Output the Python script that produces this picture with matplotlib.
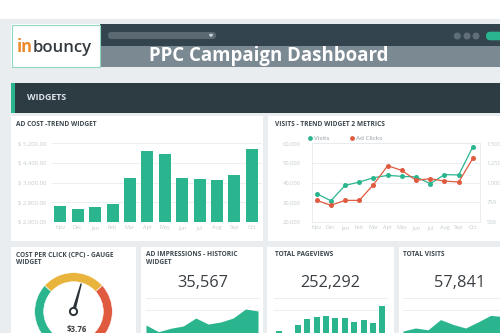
import numpy as np
import matplotlib.pyplot as plt
from matplotlib.patches import Rectangle, FancyBboxPatch, Wedge, Circle, Polygon

plt.rcParams['font.family'] = ['Open Sans', 'DejaVu Sans']

W, H = 500, 333

# ---- data ----
months = ['Nov', 'Dec', 'Jan', 'Feb', 'Mar', 'Apr', 'May', 'Jun', 'Jul', 'Aug', 'Sep', 'Oct']
ad_cost = [2650, 2540, 2610, 2720, 3800, 4900, 4750, 3800, 3750, 3710, 3920, 4960]
ad_cost_ticks = [2000, 2800, 3600, 4400, 5200]

visits = [34400, 30800, 38600, 40300, 42500, 43700, 43200, 42900, 39500, 44100, 43900, 58300]
ad_clicks = [775, 712, 775, 775, 975, 1215, 1155, 1030, 1050, 1020, 1008, 1310]
visits_ticks = [20000, 30000, 40000, 50000, 60000]
clicks_ticks = [500, 750, 1000, 1250, 1500]

cpc = 3.76
cpc_max = 6.75

impressions_total = 35567
impressions_trend = [1.75, 1.19, 1.48, 1.67, 2.33, 1.83, 2.0, 2.33, 3.08, 2.92]
pageviews_total = 252292
pageviews_trend = [1.28, 0.9, 1.75, 2.25, 2.42, 2.5, 2.31, 2.36, 2.0, 2.17, 1.89, 3.31]
visits_total = 57841
visits_trend = [1.25, 1.5, 1.35, 2.2, 1.8, 1.5, 2.0, 2.55, 2.45]

# ---- colours ----
BG = '#e9edef'
TEAL = '#2bb58e'
RED = '#e05a40'
YELLOW = '#e9b43c'
TITLE = '#3c474e'
TICK = '#c6ccd0'
GRID = '#eceff1'

fig = plt.figure(figsize=(W / 100, H / 100), dpi=100)
fig.patch.set_facecolor(BG)


def rect(x0, y0, x1, y1):
    """pixel box -> figure fraction"""
    return [x0 / W, 1 - y1 / H, (x1 - x0) / W, (y1 - y0) / H]


bg = fig.add_axes([0, 0, 1, 1])
bg.set_xlim(0, W)
bg.set_ylim(H, 0)
bg.axis('off')


def box(x0, y0, x1, y1, color):
    bg.add_patch(Rectangle((x0, y0), x1 - x0, y1 - y0, facecolor=color, edgecolor='none'))


box(0, 0, W, 19, 'white')

# header
box(11, 24, W, 45.5, '#34444e')
box(100, 45.5, W, 67, '#7b8993')
box(11, 24, 100, 67, 'white')
bg.add_patch(Rectangle((11.5, 24.5), 88, 42, fill=False, edgecolor='#8ed6bf', lw=0.8))
t_in = bg.text(16.5, 52.5, 'in', color='#ec8a2d', fontsize=12, fontweight='bold', va='baseline')
bg.annotate('bouncy', xy=(1, 0), xycoords=t_in, va='bottom', ha='left',
            color='#333a3f', fontsize=12, fontweight='semibold')
bg.add_patch(FancyBboxPatch((108, 32), 108, 7, boxstyle='round,pad=0,rounding_size=3.5',
                            facecolor='#5b6973', edgecolor='none'))
bg.add_patch(Polygon([[209.5, 34.5], [212.5, 34.5], [211, 36.5]], color='#c9d0d4'))
for cx in [457.3, 467, 476]:
    bg.add_patch(Circle((cx, 36), 2.8, color='#5f6e78'))
bg.add_patch(FancyBboxPatch((486, 31.7), 30, 8.6, boxstyle='round,pad=0,rounding_size=4.3',
                            facecolor=TEAL, edgecolor='none'))
bg.text(269, 61, 'PPC Campaign Dashboard', color='white', fontsize=13.4,
        fontweight='bold', ha='center', va='baseline')

# widgets bar
box(11, 83, W, 112.5, '#2d3b43')
box(11, 83, 15, 112.5, TEAL)
bg.text(27.3, 98, 'WIDGETS', color='#dde4e8', fontsize=6.4, fontweight='bold', va='center')

# panels
box(11, 116, 263, 241, 'white')
box(268, 116, W, 241, 'white')
box(11, 247, 136, H, 'white')
box(141, 247, 263, H, 'white')
box(267, 247, 394, H, 'white')
box(399, 247, W, H, 'white')

title_kw = dict(fontsize=4.7, fontweight='bold', color=TITLE, va='center')
bg.text(16, 125, 'AD COST -TREND WIDGET', **title_kw)
bg.text(275, 125, 'VISITS - TREND WIDGET 2 METRICS', **title_kw)
bg.text(16, 255, 'COST PER CLICK (CPC) - GAUGE', **title_kw)
bg.text(16, 262, 'WIDGET', **title_kw)
bg.text(146, 255, 'AD IMPRESSIONS - HISTORIC', **title_kw)
bg.text(146, 262, 'WIDGET', **title_kw)
bg.text(275, 255, 'TOTAL PAGEVIEWS', **title_kw)
bg.text(403, 255, 'TOTAL VISITS', **title_kw)

num_kw = dict(fontsize=11.8, color='#3a3f43', ha='center', va='baseline')
bg.text(202.5, 286.7, f'{impressions_total:,}', **num_kw)
bg.text(330.3, 286.7, f'{pageviews_total:,}', **num_kw)
bg.text(459.2, 286.7, f'{visits_total:,}', **num_kw)

# legend of visits chart
bg.scatter([309.5], [138], s=12, color=TEAL, lw=0)
bg.text(313.5, 138, 'Visits', fontsize=4.6, color='#8f989e', va='center')
bg.scatter([352], [138], s=12, color=RED, lw=0)
bg.text(356.5, 138, 'Ad Clicks', fontsize=4.6, color='#8f989e', va='center')

x = np.arange(len(months))


def style(ax, size=4.3):
    ax.set_facecolor('none')
    for s in ax.spines.values():
        s.set_visible(False)
    ax.tick_params(length=0, labelsize=size, labelcolor=TICK)
    ax.grid(axis='y', color=GRID, lw=0.7)
    ax.set_axisbelow(True)


# ---- ad cost bars ----
ax1 = fig.add_axes(rect(52, 143.3, 262, 222))
style(ax1)
ax1.bar(x, ad_cost, width=0.69, color=TEAL)
ax1.set_xlim(-0.477, 11.59)
ax1.set_ylim(ad_cost_ticks[0], ad_cost_ticks[-1])
ax1.set_yticks(ad_cost_ticks)
ax1.set_yticklabels([f'$ {v:,.2f}' for v in ad_cost_ticks])
ax1.set_xticks(x)
ax1.set_xticklabels(months, fontsize=4)
ax1.tick_params(axis='y', pad=4.3)
ax1.tick_params(axis='x', pad=2.5)

# ---- visits / ad clicks lines ----
ax2 = fig.add_axes(rect(311.7, 143.3, 480, 222))
style(ax2, 4.2)
for s in ax2.spines.values():
    s.set_visible(True)
    s.set_color('#e8ebed')
    s.set_linewidth(0.6)
ax2.plot(x, visits, color=TEAL, lw=0.9, marker='o', ms=3.6, mew=0)
ax2.set_xlim(-0.35, 11.5)
ax2.set_ylim(visits_ticks[0], visits_ticks[-1])
ax2.set_yticks(visits_ticks)
ax2.set_yticklabels([f'{v:,}' for v in visits_ticks])
ax2.set_xticks(x)
ax2.set_xticklabels(months, fontsize=4)
ax2.tick_params(axis='y', pad=7.9)
ax2.tick_params(axis='x', pad=2.5)
ax2b = ax2.twinx()
style(ax2b, 4.2)
ax2b.grid(False)
ax2b.plot(x, ad_clicks, color=RED, lw=0.9, marker='o', ms=3.6, mew=0)
ax2b.set_ylim(clicks_ticks[0], clicks_ticks[-1])
ax2b.set_yticks(clicks_ticks)
ax2b.set_yticklabels([f'{v:,}' for v in clicks_ticks])
ax2b.tick_params(axis='y', pad=4.8)

# ---- gauge ----
gx, gy, R, wd = 73.5, 311.5, 38.8, 9
# angles in data space are mirrored because the y axis is inverted
for t1, t2, c in [(-225, -138, TEAL), (-138, -42, YELLOW), (-42, 45, RED)]:
    bg.add_patch(Wedge((gx, gy), R, t1, t2, width=wd, facecolor=c, edgecolor='white', lw=0.4))
ang = np.deg2rad(225 - 270 * cpc / cpc_max)
tip = (gx + 29 * np.cos(ang), gy - 29 * np.sin(ang))
perp = (np.sin(ang), np.cos(ang))
base = [(gx + 1.1 * perp[0], gy + 1.1 * perp[1]), (gx - 1.1 * perp[0], gy - 1.1 * perp[1])]
bg.add_patch(Polygon([base[0], tip, base[1]], color='#2b3338'))
bg.add_patch(Circle((gx, gy), 3.6, facecolor='white', edgecolor='#2b3338', lw=1.4))
bg.text(gx + 3, 332, f'${cpc:.2f}', fontsize=5.6, fontweight='bold', color='#3a3f43',
        ha='center', va='baseline')


def small_axes(x0, x1):
    ax = fig.add_axes(rect(x0, 286, x1, 346))
    style(ax)
    ax.set_ylim(0, 5)
    ax.set_yticks([3, 4])
    ax.set_xticks([])
    ax.set_yticklabels([])
    return ax


# ---- ad impressions area ----
ax4 = small_axes(146, 260)
xi = np.arange(len(impressions_trend))
ax4.fill_between(xi, impressions_trend, 0, color=TEAL, lw=0)
ax4.set_xlim(0, 9.16)

# ---- pageviews bars ----
ax5 = small_axes(274, 388)
xp = np.arange(len(pageviews_trend))
ax5.bar(xp, pageviews_trend, width=0.64, color=TEAL)
ax5.set_xlim(-0.53, 11.6)

# ---- total visits area ----
ax6 = small_axes(403, 510)
xv = np.arange(len(visits_trend))
ax6.fill_between(xv, visits_trend, 0, color=TEAL, lw=0)
ax6.set_xlim(0, 8.56)

fig.savefig('out.png', dpi=100, facecolor=fig.get_facecolor())
